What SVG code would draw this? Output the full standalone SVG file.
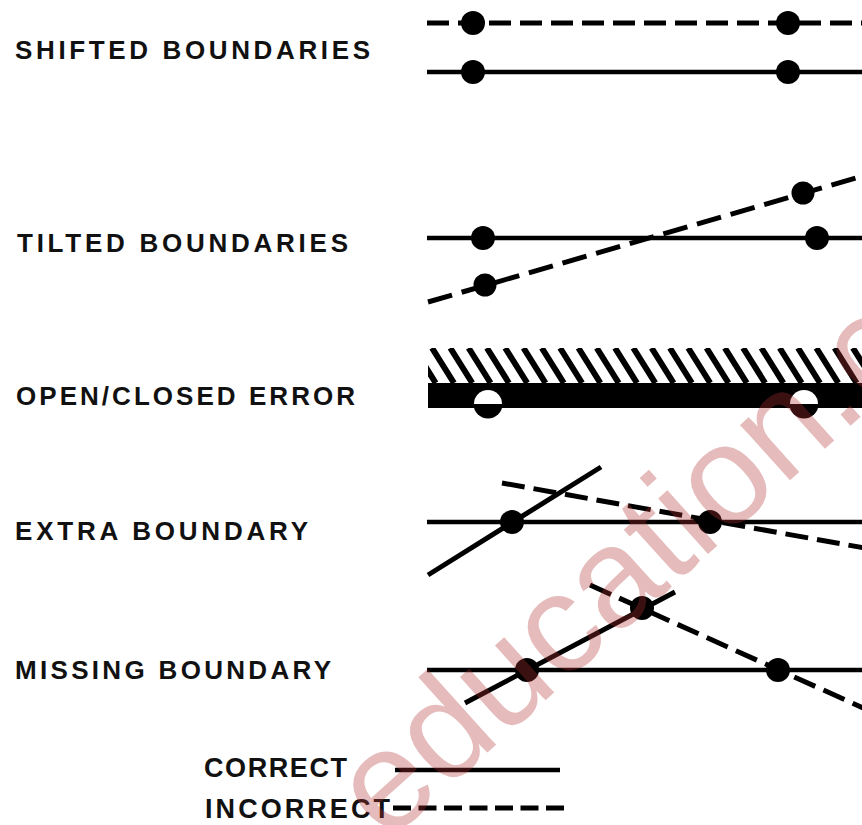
<svg xmlns="http://www.w3.org/2000/svg" width="862" height="825" viewBox="0 0 862 825">
  <style>
    .lbl { font-family: "Liberation Sans", Arial, sans-serif; font-weight: bold; font-size: 26px; fill: #111; }
    .leg { font-family: "Liberation Sans", Arial, sans-serif; font-weight: bold; font-size: 27px; fill: #111; }
    .solid { stroke: #000; stroke-width: 4.5; fill: none; }
    .dash { stroke: #000; stroke-width: 5; fill: none; stroke-dasharray: 22 9; }
    .dot { fill: #000; }
    .wm { font-family: "Liberation Sans", Arial, sans-serif; font-size: 141px; fill: #b03030; fill-opacity: 0.33; }
  </style>
  <defs>
    <clipPath id="hatchClip"><rect x="428" y="348" width="434" height="35"/></clipPath>
  </defs>
  <rect width="862" height="825" fill="#fff"/>

  <g id="shifted">
    <text class="lbl" x="15" y="59" textLength="355" lengthAdjust="spacing">SHIFTED BOUNDARIES</text>
    <line class="dash" x1="427" y1="23" x2="862" y2="23"/>
    <line class="solid" x1="427" y1="72" x2="862" y2="72"/>
    <circle class="dot" cx="473" cy="23" r="12"/>
    <circle class="dot" cx="788" cy="23" r="12"/>
    <circle class="dot" cx="473" cy="72" r="12"/>
    <circle class="dot" cx="788" cy="72" r="12"/>
  </g>

  <g id="tilted">
    <text class="lbl" x="17" y="252" textLength="331" lengthAdjust="spacing">TILTED BOUNDARIES</text>
    <line class="solid" x1="427" y1="238" x2="862" y2="238"/>
    <line class="dash" x1="428" y1="302" x2="870" y2="174" style="stroke-dasharray:25 10"/>
    <circle class="dot" cx="483" cy="238" r="12"/>
    <circle class="dot" cx="817" cy="238" r="12"/>
    <circle class="dot" cx="485" cy="285" r="11.5"/>
    <circle class="dot" cx="803" cy="193" r="11.5"/>
  </g>

  <g id="open-closed">
    <text class="lbl" x="16" y="405" textLength="339" lengthAdjust="spacing">OPEN/CLOSED ERROR</text>
    <path clip-path="url(#hatchClip)" stroke="#000" stroke-width="6" fill="none"
      d="M395.4 348l22 35M413.7 348l22 35M432 348l22 35M450.3 348l22 35M468.6 348l22 35M486.9 348l22 35M505.2 348l22 35M523.5 348l22 35M541.8 348l22 35M560.1 348l22 35M578.4 348l22 35M596.7 348l22 35M615 348l22 35M633.3 348l22 35M651.6 348l22 35M669.9 348l22 35M688.2 348l22 35M706.5 348l22 35M724.8 348l22 35M743.1 348l22 35M761.4 348l22 35M779.7 348l22 35M798 348l22 35M816.3 348l22 35M834.6 348l22 35M852.9 348l22 35M871.2 348l22 35"/>
    <rect x="428" y="383" width="434" height="25" fill="#000"/>
    <circle cx="488" cy="404" r="14.5" fill="#000"/>
    <path d="M474 404A14 14 0 0 1 502 404Z" fill="#fff"/>
    <circle cx="804" cy="404" r="14.5" fill="#000"/>
    <path d="M790 404A14 14 0 0 1 818 404Z" fill="#fff"/>
  </g>

  <g id="extra">
    <text class="lbl" x="15" y="540" textLength="293" lengthAdjust="spacing">EXTRA BOUNDARY</text>
    <line class="solid" x1="427" y1="522" x2="862" y2="522"/>
    <line class="solid" x1="428" y1="575" x2="601" y2="467" style="stroke-width:5"/>
    <line class="dash" x1="502" y1="483" x2="870" y2="549" style="stroke-dasharray:23 9"/>
    <circle class="dot" cx="512" cy="522" r="12"/>
    <circle class="dot" cx="710" cy="522" r="12"/>
  </g>

  <g id="missing">
    <text class="lbl" x="15" y="679" textLength="316" lengthAdjust="spacing">MISSING BOUNDARY</text>
    <line class="solid" x1="427" y1="670" x2="862" y2="670"/>
    <line class="solid" x1="465" y1="703" x2="675" y2="592" style="stroke-width:5"/>
    <line class="dash" x1="590" y1="585" x2="870" y2="711" style="stroke-dasharray:23 9"/>
    <circle class="dot" cx="527" cy="670" r="12"/>
    <circle class="dot" cx="778" cy="670" r="12"/>
    <circle class="dot" cx="642" cy="608" r="12"/>
  </g>

  <g id="legend">
    <text class="leg" x="204" y="777" textLength="143" lengthAdjust="spacing">CORRECT</text>
    <line class="solid" x1="395" y1="770" x2="560" y2="770"/>
    <text class="leg" x="205" y="818" textLength="185" lengthAdjust="spacing">INCORRECT</text>
    <line class="dash" x1="393" y1="808" x2="565" y2="808" style="stroke-dasharray:18 7.5"/>
  </g>

  <g id="watermark">
    <text class="wm" transform="translate(386.5 843.5) rotate(-42)">education.c</text>
  </g>
</svg>
